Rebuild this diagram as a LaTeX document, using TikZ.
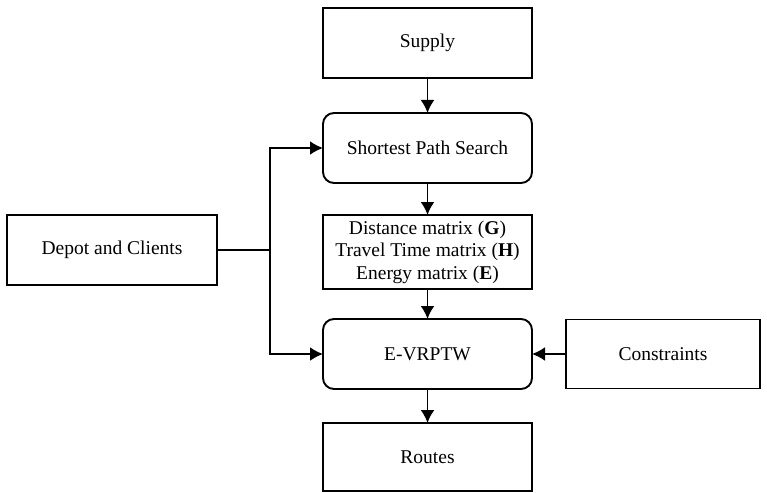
\documentclass[tikz,border=0pt]{standalone}
\usepackage{fontspec}
\setmainfont{Liberation Serif}
\usepackage{tikz}
\usetikzlibrary{arrows.meta}

\tikzset{
    block/.style={draw,line width=1.9pt,minimum width=209pt,minimum height=70pt,inner sep=0pt,outer sep=0pt,align=center,font=\fontsize{19.5}{22.5}\selectfont},
    rblock/.style={block,rounded corners=11pt},
    flow/.style={line width=1.9pt,-{Latex[length=13pt,width=14pt]}}
}

\begin{document}
\begin{tikzpicture}[x=1pt,y=-1pt]
        \useasboundingbox (0,0) rectangle (767,492);

        \node[block] (supply) at (427.5,43) {Supply};
        \node[rblock] (sps) at (427.5,148) {Shortest Path Search};
        \node[block,minimum height=74pt] (mat) at (427.5,252) {Distance matrix (\textbf{G})\\Travel Time matrix (\textbf{H})\\Energy matrix (\textbf{E})};
        \node[rblock] (vrp) at (427.5,354) {E-VRPTW};
        \node[block,minimum height=68pt] (routes) at (427.5,457) {Routes};
        \node[block,minimum width=210pt] (depot) at (112,250) {Depot and Clients};
        \node[block,minimum width=194pt,minimum height=69pt] (cons) at (663,354) {Constraints};

        \coordinate (split) at (270,250);

        \draw[flow] (supply) -- (sps);
        \draw[flow] (sps) -- (mat);
        \draw[flow] (mat) -- (vrp);
        \draw[flow] (vrp) -- (routes);
        \draw[line width=1.9pt] (depot.east) -- (split);
        \draw[flow] (split) |- (sps.west);
        \draw[flow] (split) |- (vrp.west);
        \draw[flow] (cons) -- (vrp);
    \end{tikzpicture}
\end{document}
